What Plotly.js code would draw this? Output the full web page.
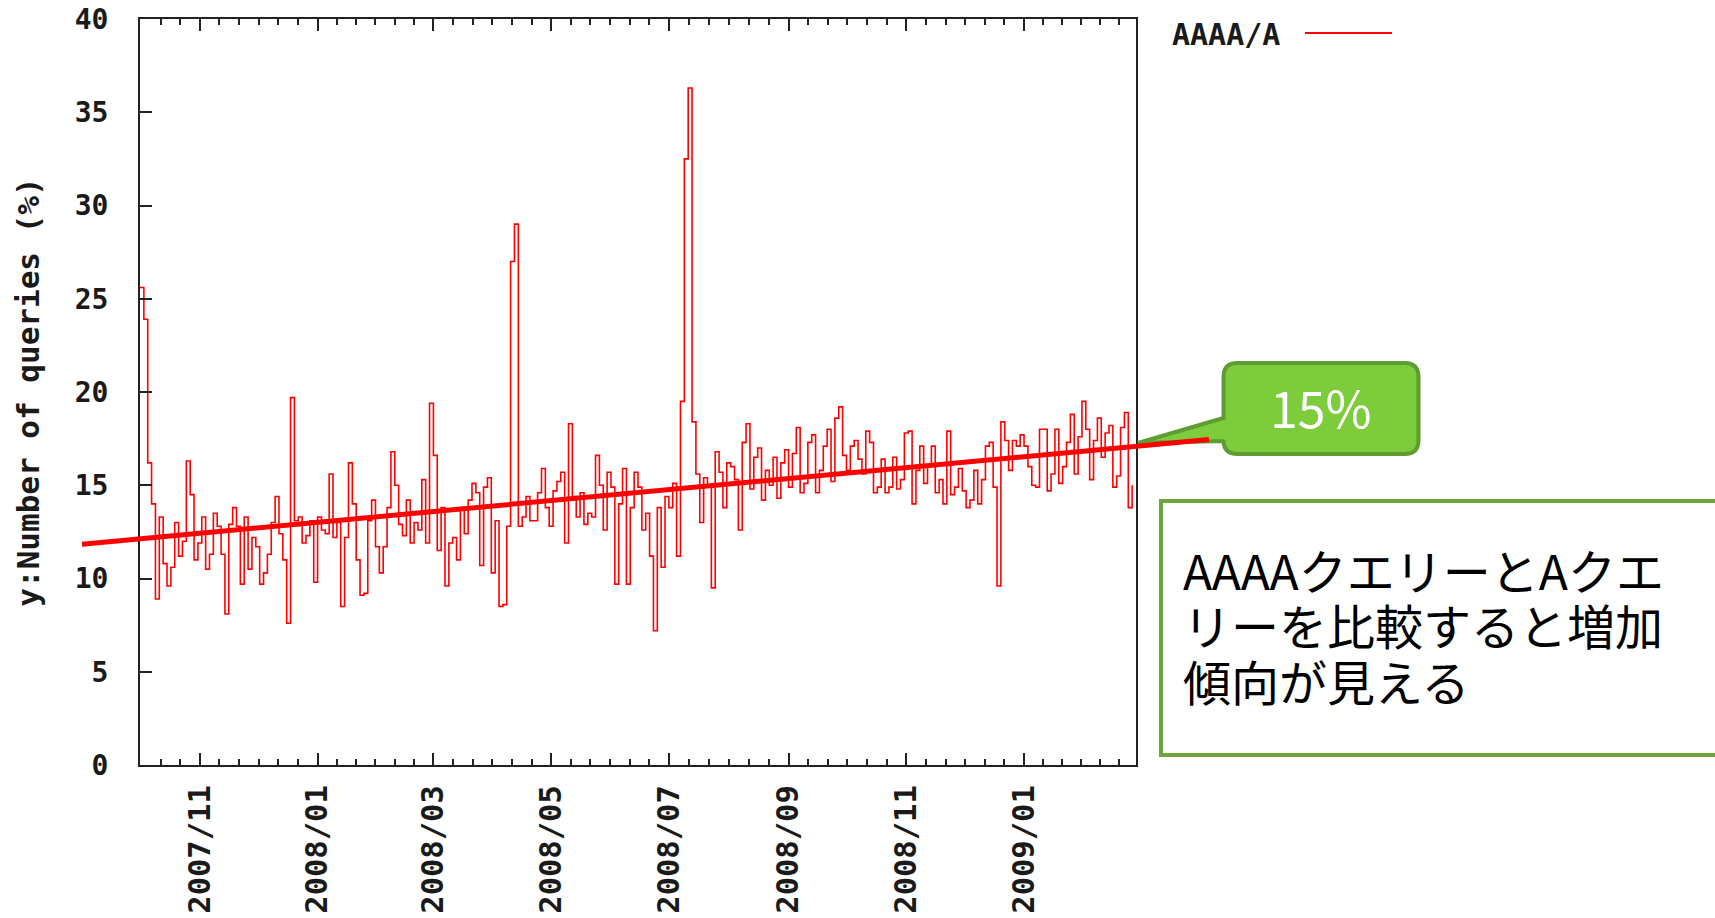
<!DOCTYPE html>
<html>
<head>
<meta charset="utf-8">
<script src="https://cdn.plot.ly/plotly-3.0.1.min.js"></script>
<style>
html,body{margin:0;padding:0;background:#ffffff;}
#chart{width:1715px;height:918px;}
</style>
</head>
<body>
<div id="chart"></div>
<script>
// ---------------- data ----------------
const seriesName = 'AAAA/A';
const startDate = '2007-10-01';   // first sample
const stepDays = 2;               // one reading every two days
const ratioValues = [
  25.6, 23.9, 16.2, 14.0, 8.9, 13.3, 10.8, 9.6, 10.6, 13.0,
  11.2, 12.0, 16.3, 14.5, 11.0, 11.9, 13.3, 10.5, 11.3, 13.5,
  12.8, 11.3, 8.1, 12.9, 13.8, 12.8, 9.7, 13.3, 10.5, 12.2,
  11.7, 9.7,
  10.3, 11.3, 13.0, 14.4, 12.4, 11.0, 7.6, 19.7, 13.1, 13.3,
  11.9, 12.3, 13.1, 9.8, 13.3, 12.6, 12.4, 15.6, 12.2, 13.0,
  8.5, 12.2, 16.2, 14.0, 11.0, 9.1, 9.2, 13.1, 14.2, 11.7,
  10.3, 11.7, 13.8,
  16.8, 15.0, 12.9, 12.3, 14.2, 11.9, 13.0, 12.6, 15.3, 11.9,
  19.4, 16.6, 11.5, 13.8, 9.6, 11.9, 12.2, 11.0, 13.8, 12.4,
  14.2, 15.1, 14.6, 10.7, 14.9, 15.4, 10.3, 13.1, 8.5, 8.6,
  12.8, 27.0, 29.0,
  12.8, 13.3, 14.4, 13.1, 13.1, 14.6, 15.9, 13.8, 12.8, 14.7,
  15.2, 15.7, 11.9, 18.3, 14.4, 13.3, 14.6, 12.9, 13.5, 13.3,
  16.6, 15.0, 12.6, 15.7, 14.9, 9.7, 14.0, 15.9, 9.7, 13.8,
  15.7, 14.9,
  12.6, 13.5, 11.2, 7.2, 13.8, 10.6, 14.4, 13.8, 15.1, 11.2,
  19.5, 32.5, 36.3, 18.4, 15.6, 13.0, 15.4, 14.9, 9.5, 16.8,
  15.7, 13.8, 16.2, 16.0, 15.3, 12.6, 17.3, 18.3, 14.8, 16.5,
  17.0, 14.2, 15.8,
  15.0, 16.5, 14.3, 16.2, 16.9, 14.9, 16.7, 18.1, 14.6, 15.1,
  17.3, 17.7, 14.6, 15.8, 17.1, 18.0, 15.2, 18.6, 19.2, 16.6,
  15.8, 17.1, 17.4, 16.4, 15.6, 17.9, 17.3, 14.6, 14.9, 16.4,
  14.6, 14.9,
  16.5, 14.8, 15.3, 17.8, 17.9, 14.0, 15.8, 17.1, 15.1, 16.0,
  17.1, 14.6, 15.3, 14.0, 17.9, 14.5, 14.9, 15.9, 14.7, 13.8,
  14.2, 15.8, 14.0, 15.3, 17.1, 17.3, 14.9, 9.6, 18.4, 17.4,
  15.8, 17.4, 17.1,
  17.7, 17.1, 16.0, 15.0, 14.9, 18.0, 18.0, 14.7, 15.6, 18.0,
  15.1, 16.0, 17.3, 18.8, 15.6, 17.6, 19.5, 18.0, 15.3, 17.4,
  18.6, 16.5, 17.8, 18.2, 14.9, 15.5, 18.1, 18.9, 13.8, 15.0
];
const xRange = ['2007-10-01', '2009-02-28'];
const yRange = [0, 40];
const yTickStep = 5;
const xTickFormat = '%Y/%m';
const yTitle = 'y:Number of queries (%)';
const trendValues = [12.13, 17.09];   // trend value at left and right edge of the plot
const calloutText = '15%';
const noteLines = ['AAAAクエリーとAクエ', 'リーを比較すると増加', '傾向が見える'];

// ---------------- build ----------------
const DAY = 86400000;
const t0 = Date.parse(startDate + 'T00:00:00Z');
const xDates = ratioValues.map((v, i) => new Date(t0 + i * stepDays * DAY).toISOString().slice(0, 10));

// minor ticks: each two-month interval split into six
const majors = [];
for (let m = 8; m <= 8 + 20; m += 2) majors.push(Date.UTC(2007, m, 1));
const minorVals = [];
for (let i = 0; i < majors.length - 1; i++) {
  for (let j = 1; j < 6; j++) minorVals.push(majors[i] + (majors[i + 1] - majors[i]) * j / 6);
}

const W = 1715, H = 918;
const L = 140, R = 1136, T = 19, B = 765;
const px = X => (X - L) / (R - L);
const py = Y => (B - Y) / (B - T);

const mono = {family: 'DejaVu Sans Mono, Liberation Mono, monospace', weight: 'bold', color: '#1a1a1a'};
const jp = 'Noto Sans CJK JP, Noto Sans, sans-serif';

const trace = {
  type: 'scatter', mode: 'lines', name: seriesName,
  x: xDates, y: ratioValues,
  line: {color: '#ff0000', width: 1.6, shape: 'hv'},
  hoverinfo: 'x+y'
};

// callout bubble path (rounded rect + tail), pixel geometry converted to paper
function calloutPath() {
  const cl = 1223.5, cr = 1418.5, ct = 363, cb = 454, r = 14;
  const tip = [1138, 443], baseTop = 418, baseBot = 441;
  const P = (X, Y) => px(X).toFixed(5) + ',' + py(Y).toFixed(5);
  return 'M' + P(cl + r, ct) + ' L' + P(cr - r, ct) + ' Q' + P(cr, ct) + ' ' + P(cr, ct + r) +
    ' L' + P(cr, cb - r) + ' Q' + P(cr, cb) + ' ' + P(cr - r, cb) +
    ' L' + P(cl + r, cb) + ' Q' + P(cl, cb) + ' ' + P(cl, cb - r) +
    ' L' + P(cl, baseBot) + ' L' + P(tip[0], tip[1]) + ' L' + P(cl, baseTop) +
    ' L' + P(cl, ct + r) + ' Q' + P(cl, ct) + ' ' + P(cl + r, ct) + ' Z';
}

const trendAt = p => trendValues[0] + (trendValues[1] - trendValues[0]) * p;
const tx0 = px(82), tx1 = px(1209);

const shapes = [
  {type: 'rect', xref: 'paper', yref: 'paper', x0: px(1161), x1: px(1740), y0: py(755), y1: py(501),
   line: {color: '#6aa63c', width: 4}, fillcolor: '#ffffff', layer: 'above'},
  {type: 'path', xref: 'paper', yref: 'paper', path: calloutPath(),
   line: {color: '#5f9c32', width: 4}, fillcolor: '#7dcc3c', layer: 'above'},
  {type: 'line', xref: 'paper', yref: 'paper', x0: px(1305), x1: px(1392), y0: py(33), y1: py(33),
   line: {color: '#ff0000', width: 2}},
  {type: 'line', xref: 'paper', yref: 'y', x0: tx0, x1: tx1, y0: trendAt(tx0), y1: trendAt(tx1),
   line: {color: '#ff0000', width: 5}, layer: 'above'}
];

// note text: one text block, line pitch set by the base font size, glyphs enlarged by span
const noteText = noteLines.map(t => '<span style="font-size:48px">' + t + '</span>').join('<br>');

const annotations = [
  {xref: 'paper', yref: 'paper', x: px(1170), y: py(34), xanchor: 'left', yanchor: 'middle',
   text: seriesName, showarrow: false, font: Object.assign({}, mono, {size: 30})},
  {xref: 'paper', yref: 'paper', x: px(1321), y: py(406), xanchor: 'center', yanchor: 'middle',
   text: calloutText, showarrow: false, font: {family: jp, size: 50, color: '#ffffff'}},
  {xref: 'paper', yref: 'paper', x: px(1181), y: py(624), xanchor: 'left', yanchor: 'middle', align: 'left',
   text: noteText, showarrow: false, font: {family: jp, size: 42.5, color: '#000000'}}
];

const layout = {
  width: W, height: H,
  margin: {l: L, r: W - R, t: T, b: H - B, pad: 0},
  paper_bgcolor: '#ffffff', plot_bgcolor: '#ffffff',
  showlegend: false,
  xaxis: {
    type: 'date', range: xRange, autorange: false,
    tickmode: 'linear', tick0: '2007-11-01', dtick: 'M2', tickformat: xTickFormat,
    tickangle: -90, ticks: 'inside', ticklen: 12, tickwidth: 2, tickcolor: '#222',
    ticklabelstandoff: 6,
    minor: {tickmode: 'array', tickvals: minorVals, ticks: 'inside', ticklen: 6, tickwidth: 2, tickcolor: '#222', showgrid: false},
    showline: true, linecolor: '#222', linewidth: 2, mirror: 'allticks',
    showgrid: false, zeroline: false,
    tickfont: Object.assign({}, mono, {size: 30.5})
  },
  yaxis: {
    range: yRange, autorange: false, tickmode: 'linear', tick0: 0, dtick: yTickStep,
    ticks: 'inside', ticklen: 12, tickwidth: 2, tickcolor: '#222',
    ticklabelstandoff: 24,
    showline: true, linecolor: '#222', linewidth: 2, mirror: true,
    showgrid: false, zeroline: false,
    tickfont: Object.assign({}, mono, {size: 28}),
    title: {text: yTitle, font: Object.assign({}, mono, {size: 31}), standoff: 26}
  },
  shapes: shapes,
  annotations: annotations
};

Plotly.newPlot('chart', [trace], layout, {displayModeBar: false, staticPlot: true});
</script>
</body>
</html>
